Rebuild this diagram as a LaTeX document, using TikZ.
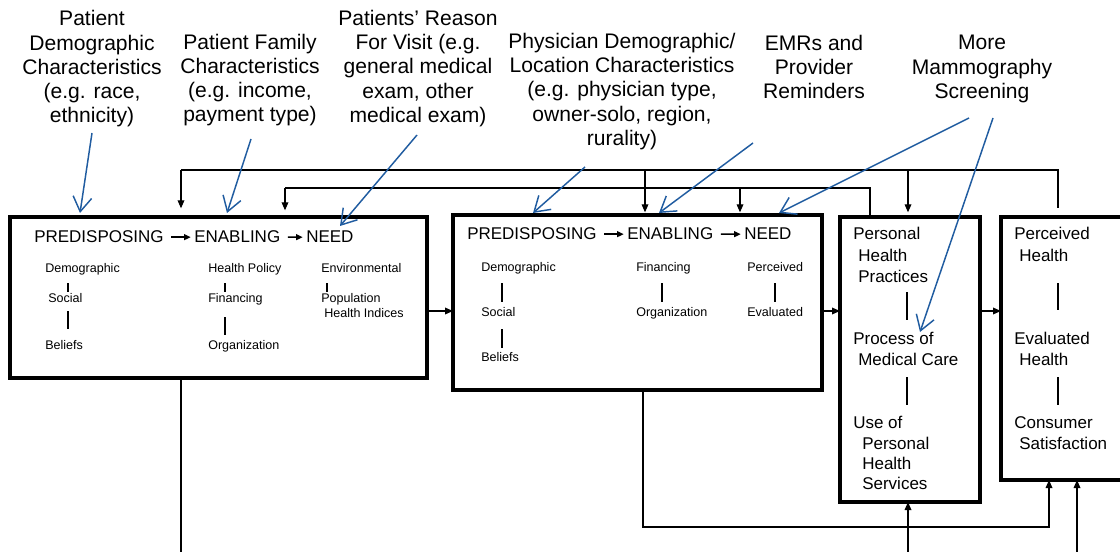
\documentclass[tikz,border=0pt]{standalone}
\usepackage{fontspec}
\setmainfont{Liberation Sans}
\usetikzlibrary{arrows.meta}
\definecolor{annblue}{RGB}{32,92,160}
\begin{document}
\begin{tikzpicture}[x=0.75pt,y=-0.75pt,
  box/.style={draw,line width=2.3pt,anchor=north west,inner sep=0pt,outer sep=0pt},
  hd/.style={anchor=base west,inner sep=0pt,font=\fontsize{12.75}{15}\selectfont},
  sb/.style={anchor=base west,inner sep=0pt,font=\fontsize{9.4}{11}\selectfont},
  ann/.style={align=center,inner sep=0pt,font=\fontsize{15.8}{18.2}\selectfont},
  bar/.style={line width=0.8pt},
  fb/.style={line width=0.9pt},
  fba/.style={line width=0.9pt,-{Triangle[length=6pt,width=5pt]}},
  ha/.style={line width=1pt,-{Triangle[length=5pt,width=4.5pt]},shorten <=5.5pt,shorten >=2.5pt},
  bl/.style={draw=annblue,line width=1.1pt,-{Straight Barb[length=11pt,width=14pt,line width=1.1pt]}}
]
\useasboundingbox (0,0) rectangle (1120,552);
\clip (0,0) rectangle (1120,552);

% boxes
\node[box,minimum width=312.75pt,minimum height=120.75pt] (b1) at (10,217) {};
\node[box,minimum width=276.75pt,minimum height=131.25pt] (b2) at (453,215) {};
\node[box,minimum width=105pt,minimum height=213.75pt] (b3) at (840,217) {};
\node[box,minimum width=105pt,minimum height=197.25pt] (b4) at (1001,217) {};

% box 1 contents
\node[hd] (p1) at (34,243) {PREDISPOSING};
\node[hd] (e1) at (194,243) {ENABLING};
\node[hd] (n1) at (306,243) {NEED};
\draw[ha] (p1.east) -- (e1.west);
\draw[ha] (e1.east) -- (n1.west);
\node[sb] (d1) at (45,272.5) {Demographic};
\node[sb] (so1) at (48,302.5) {Social};
\node[sb] (be1) at (45,349.5) {Beliefs};
\node[sb] (hp1) at (208,272.5) {Health Policy};
\node[sb] (fi1) at (208,302.5) {Financing};
\node[sb] (or1) at (208,349.5) {Organization};
\node[sb] (en1) at (321,272.5) {Environmental};
\node[sb] (po1) at (321,302.5) {Population};
\node[sb] (hi1) at (324,317.5) {Health Indices};
\draw[bar] (68,283) -- (68,292);
\draw[bar] (68,311) -- (68,329);
\draw[bar] (225,283) -- (225,292);
\draw[bar] (225,317) -- (225,335);
\draw[bar] (327,283) -- (327,292);

% box 2 contents
\node[hd] (p2) at (467,240) {PREDISPOSING};
\node[hd] (e2) at (627,240) {ENABLING};
\node[hd] (n2) at (744,240) {NEED};
\draw[ha] (p2.east) -- (e2.west);
\draw[ha] (e2.east) -- (n2.west);
\node[sb] (d2) at (481,271.5) {Demographic};
\node[sb] (so2) at (481,316.5) {Social};
\node[sb] (be2) at (481,361.5) {Beliefs};
\node[sb] (fi2) at (636,271.5) {Financing};
\node[sb] (or2) at (636,316.5) {Organization};
\node[sb] (pe2) at (747,271.5) {Perceived};
\node[sb] (ev2) at (747,316.5) {Evaluated};
\draw[bar] (502,283) -- (502,302);
\draw[bar] (502,329) -- (502,348);
\draw[bar] (662,283) -- (662,302);
\draw[bar] (775,283) -- (775,302);

% box 3 contents
\node[hd] (x1) at (853,240) {Personal};
\node[hd] (x2) at (858,262) {Health};
\node[hd] (x3) at (858,282) {Practices};
\node[hd] (x4) at (853,344) {Process of};
\node[hd] (x5) at (858,365) {Medical Care};
\node[hd] (x6) at (853,428) {Use of};
\node[hd] (x7) at (862,449) {Personal};
\node[hd] (x8) at (862,469) {Health};
\node[hd] (x9) at (862,489) {Services};
\draw[bar] (907,292) -- (907,320);
\draw[bar] (907,377) -- (907,405);

% box 4 contents
\node[hd] (y1) at (1014,240) {Perceived};
\node[hd] (y2) at (1019,262) {Health};
\node[hd] (y3) at (1014,344) {Evaluated};
\node[hd] (y4) at (1019,365) {Health};
\node[hd] (y5) at (1014,428) {Consumer};
\node[hd] (y6) at (1019,449) {Satisfaction};
\draw[bar] (1058,283) -- (1058,310);
\draw[bar] (1058,377) -- (1058,405);

% upper feedback line
\coordinate (t1) at (181,170);
\coordinate (t2) at (1058,170);
\coordinate (t3) at (645,170);
\coordinate (t4) at (908,170);
\draw[fb,shorten <=7pt] (b4.north -| t2) -- (t2) -- (t1);
\draw[fba,shorten >=6.5pt] (t1) -- (b1.north -| t1);
\draw[fba,shorten >=2pt] (t3) -- (b2.north -| t3);
\draw[fba,shorten >=3.5pt] (t4) -- (b3.north -| t4);

% lower feedback line
\coordinate (s1) at (285,188);
\coordinate (s2) at (870,188);
\coordinate (s3) at (740,188);
\draw[fb] (b3.north -| s2) -- (s2) -- (s1);
\draw[fba,shorten >=5pt] (s1) -- (b1.north -| s1);
\draw[fba,shorten >=2pt] (s3) -- (b2.north -| s3);

% horizontal arrows between boxes
\coordinate (m) at (0,311);
\draw[fba] (b1.east |- m) -- (b2.west |- m);
\draw[fba] (b2.east |- m) -- (b3.west |- m);
\draw[fba] (b3.east |- m) -- (b4.west |- m);

% bottom connections
\coordinate (q1) at (181,560);
\draw[fb] (b1.south -| q1) -- (q1);
\coordinate (r1) at (643,527);
\coordinate (r2) at (1049,527);
\draw[fba] (b2.south -| r1) -- (r1) -- (r2) -- (b4.south -| r2);
\coordinate (u1) at (908,560);
\draw[fba] (u1) -- (b3.south -| u1);
\coordinate (u2) at (1077,560);
\draw[fba] (u2) -- (b4.south -| u2);

% annotations
\node[ann] (a1) at (92,69) {Patient\\Demographic\\Characteristics\\(e.g. race,\\ethnicity)};
\node[ann] (a2) at (250,80) {Patient Family\\Characteristics\\(e.g. income,\\payment type)};
\node[ann] (a3) at (418,68.5) {Patients’ Reason\\For Visit (e.g.\\general medical\\exam, other\\medical exam)};
\node[ann] (a4) at (622,91.5) {Physician Demographic/\\Location Characteristics\\(e.g. physician type,\\owner-solo, region,\\rurality)};
\node[ann] (a5) at (814,67) {EMRs and\\Provider\\Reminders};
\node[ann] (a6) at (982,69) {More\\Mammography\\Screening};

\coordinate (a1s) at (92,133);  \coordinate (a1t) at (80,213);
\coordinate (a2s) at (251,139); \coordinate (a2t) at (227,213);
\coordinate (a3s) at (417,135); \coordinate (a3t) at (340,226);
\coordinate (a4s) at (585,167); \coordinate (a4t) at (533,213);
\coordinate (a5s) at (753,143); \coordinate (a5t) at (659,213);
\coordinate (a6s) at (969,118); \coordinate (a6t) at (779,213);
\coordinate (a7s) at (993,118); \coordinate (a7t) at (920,332);
\draw[bl] (a1s) -- (a1t);
\draw[bl] (a2s) -- (a2t);
\draw[bl] (a3s) -- (a3t);
\draw[bl] (a4s) -- (a4t);
\draw[bl] (a5s) -- (a5t);
\draw[bl] (a6s) -- (a6t);
\draw[bl] (a7s) -- (a7t);
\end{tikzpicture}
\end{document}
